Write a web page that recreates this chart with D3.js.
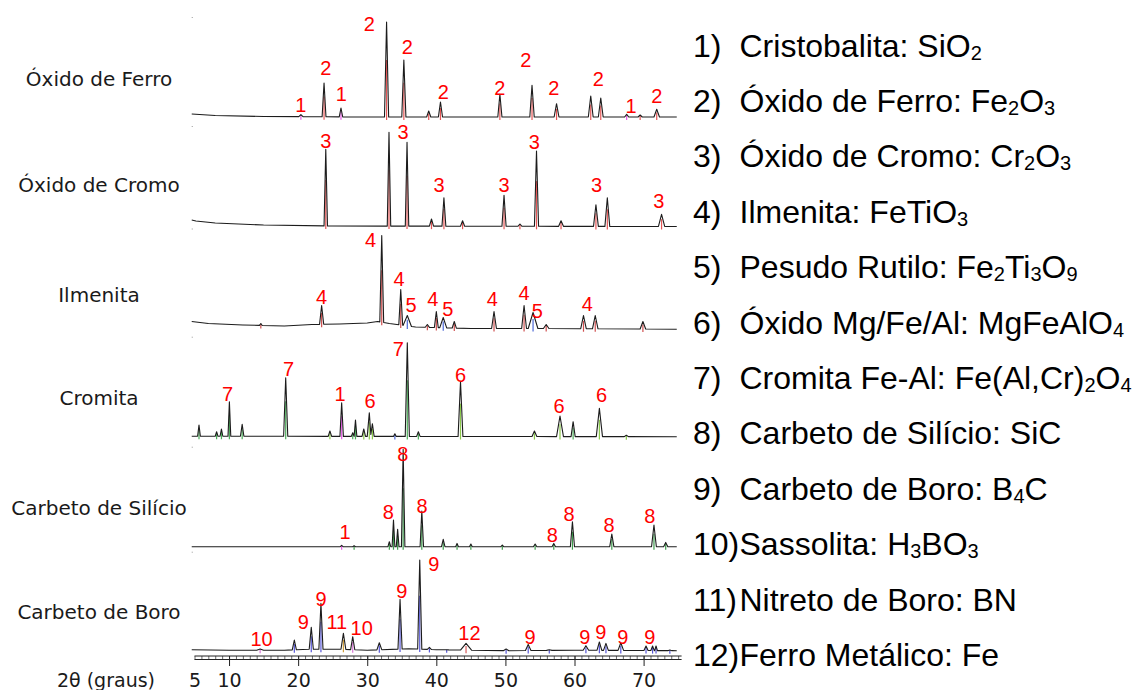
<!DOCTYPE html>
<html>
<head>
<meta charset="utf-8">
<script src="https://cdn.jsdelivr.net/npm/d3@7"></script>
<style>
  body { margin: 0; background: #fff; }
  svg { display: block; }
</style>
</head>
<body>
<svg id="chart" width="1136" height="690"></svg>
<script>
// ---- Samples (one diffractogram each, top to bottom) ----
const sampleNames = ["Óxido de Ferro", "Óxido de Cromo", "Ilmenita", "Cromita", "Carbeto de Silício", "Carbeto de Boro"];

// Peaks: [2θ (deg), relative intensity at apex, half base width (deg), phase id]
const peaksFerro = [
  [20.4, 2.3, 0.3, 1], [23.75, 34, 0.28, 2], [26.2, 9, 0.25, 1], [32.8, 95, 0.3, 2],
  [35.3, 57, 0.3, 2], [38.9, 6, 0.3, 2], [40.6, 15, 0.3, 2], [49.2, 22.7, 0.3, 2],
  [53.85, 31.7, 0.32, 2], [57.4, 13.3, 0.35, 2], [62.35, 21, 0.35, 2], [63.8, 19, 0.35, 2],
  [67.55, 2.7, 0.3, 1], [69.5, 2, 0.3, 2], [71.9, 7.7, 0.4, 2]
];
const peaksCromo = [
  [24.0, 76.7, 0.25, 3], [33.15, 93.7, 0.25, 3], [35.76, 83.7, 0.25, 3], [39.3, 7, 0.3, 3],
  [41.1, 28.3, 0.28, 3], [43.8, 5.3, 0.3, 3], [49.8, 30.7, 0.3, 3], [52.1, 2, 0.3, 3],
  [54.5, 75, 0.3, 3], [58.05, 5.3, 0.35, 3], [63.1, 21.3, 0.35, 3], [64.75, 28.3, 0.35, 3],
  [72.6, 11.7, 0.45, 3]
];
const peaksIlmenita = [
  [14.6, 5, 0.2, 4], [23.4, 23, 0.3, 4], [32.1, 93, 0.28, 4], [34.85, 39, 0.28, 4],
  [35.8, 13, 0.6, 5], [38.7, 4, 0.3, 4], [40.0, 17, 0.28, 4], [41.0, 11, 0.5, 5],
  [42.6, 7, 0.3, 4], [48.35, 17, 0.35, 4], [52.7, 23, 0.35, 4], [54.0, 16, 0.7, 5],
  [55.9, 4, 0.4, 4], [61.3, 13, 0.4, 4], [63.0, 13, 0.4, 4], [69.9, 7, 0.4, 4]
];
const peaksCromita = [
  [5.65, 11.7, 0.2, 7], [8.2, 5, 0.2, 7], [8.9, 7.7, 0.2, 7], [10.05, 35, 0.2, 7],
  [11.9, 12.3, 0.25, 7], [18.2, 59, 0.3, 7], [24.6, 5.7, 0.25, 6], [26.3, 34, 0.25, 1],
  [27.9, 4, 0.2, 7], [28.3, 16.7, 0.2, 7], [29.5, 7.7, 0.25, 6], [30.3, 24, 0.3, 6],
  [30.75, 13, 0.25, 6], [34.0, 3, 0.2, 5], [35.8, 94, 0.3, 7], [37.4, 5, 0.25, 7],
  [43.5, 55, 0.35, 6], [54.2, 5.7, 0.35, 6], [57.9, 20.7, 0.5, 6], [59.8, 15, 0.3, 7],
  [63.6, 28.3, 0.45, 6], [67.5, 1.5, 0.3, 6]
];
const peaksSilicio = [
  [26.3, 1.3, 0.2, 1], [28.1, 1, 0.2, 8], [33.2, 5, 0.2, 8], [33.8, 26.7, 0.2, 8],
  [34.4, 17.3, 0.2, 8], [35.2, 97.3, 0.25, 8], [37.9, 35.7, 0.25, 8], [41.0, 7.3, 0.25, 8],
  [43.0, 3.3, 0.2, 8], [45.0, 2.7, 0.2, 8], [49.55, 1.7, 0.2, 8], [54.3, 2.7, 0.25, 8],
  [57.0, 3.3, 0.25, 8], [59.7, 25, 0.3, 8], [65.4, 12.7, 0.3, 8], [71.5, 21.7, 0.35, 8],
  [73.2, 4.3, 0.3, 8]
];
const peaksBoro = [
  [14.5, 2.7, 0.5, 10], [19.45, 11.7, 0.3, 9], [21.9, 24.3, 0.3, 9], [23.3, 48.3, 0.3, 9],
  [26.55, 18.3, 0.35, 11], [27.9, 15, 0.3, 10], [31.75, 9, 0.35, 9], [34.75, 52.3, 0.3, 9],
  [37.6, 91.7, 0.3, 9], [39.0, 4.3, 0.3, 9], [41.5, 2, 0.3, 9], [44.3, 8.3, 0.8, 12],
  [50.1, 2.7, 0.4, 9], [53.3, 7.3, 0.4, 9], [56.35, 2, 0.4, 9], [61.65, 6, 0.4, 9],
  [63.6, 9.7, 0.35, 9], [64.55, 8.3, 0.35, 9], [66.7, 9, 0.4, 9], [70.35, 5.7, 0.3, 9],
  [71.3, 5.7, 0.25, 9], [71.8, 5.7, 0.2, 9], [73.8, 1.7, 0.3, 9]
];

// Background level: [2θ, relative intensity]
const bgFerro = [[4.6, 3], [8, 1.5], [15, 0.5], [30, 0], [75, 0]];
const bgCromo = [[4.6, 6], [5.2, 5], [8, 3], [15, 1], [25, 0], [75, -0.5]];
const bgIlmenita = [[4.6, 7], [7, 5], [12, 3.5], [18, 2.5], [22, 4], [26, 4.5], [30, 5.5],
  [31.5, 7], [33.2, 5], [37, 1.5], [45, 0], [55, 0], [75, -0.7]];
const bgCromita = [[4.6, 0.5], [75, 0]];
const bgSilicio = [[4.6, 0], [75, 0]];
const bgBoro = [[4.6, 2], [10, 1.5], [18, 1.5], [22, 2.5], [26, 2.5], [30, 1.5], [36, 3],
  [40, 2], [50, 1], [60, 1.5], [75, 1]];

// Phase annotations: [label, 2θ, intensity level of label centre]
const labelsFerro = [["1", 20.38, 12], ["2", 24.0, 49], ["1", 26.25, 23.3], ["2", 30.3, 93.7],
  ["2", 35.8, 70.3], ["2", 41.0, 25], ["2", 49.2, 29.5], ["2", 52.95, 57.3], ["2", 57.0, 29.5],
  ["2", 63.45, 38], ["1", 68.2, 11.2], ["2", 71.9, 21.2]];
const labelsCromo = [["3", 24.0, 85.3], ["3", 35.2, 94], ["3", 40.4, 41.5], ["3", 49.8, 41.5],
  ["3", 54.2, 84.3], ["3", 63.2, 41.5], ["3", 72.2, 25.3]];
const labelsIlmenita = [["4", 23.4, 31.8], ["4", 30.5, 88.5], ["4", 34.6, 50.2], ["5", 36.35, 24.2],
  ["4", 39.5, 29.5], ["5", 41.65, 20.2], ["4", 48.1, 29.5], ["4", 52.7, 36], ["5", 54.6, 17.5],
  ["4", 61.85, 24.5]];
const labelsCromita = [["7", 9.8, 43.4], ["7", 18.6, 67.5], ["1", 26.05, 42.7], ["6", 30.4, 35.5],
  ["7", 34.5, 87.5], ["6", 43.5, 61.7], ["6", 57.75, 30.9], ["6", 63.9, 41.7]];
const labelsSilicio = [["1", 26.8, 14.5], ["8", 33.05, 34.5], ["8", 35.15, 92.7], ["8", 37.95, 41.2],
  ["8", 56.8, 11.7], ["8", 59.2, 32.5], ["8", 65.0, 22.2], ["8", 70.9, 31.2]];
const labelsBoro = [["10", 14.7, 12.5], ["9", 20.75, 29.5], ["9", 23.3, 52.9], ["11", 25.6, 29.5],
  ["10", 29.2, 24.2], ["9", 35.0, 60.9], ["9", 39.65, 87.7], ["12", 44.8, 19.2], ["9", 53.55, 14.7],
  ["9", 61.5, 14.7], ["9", 63.8, 19.5], ["9", 67.0, 14.7], ["9", 70.9, 14.7]];

// Legend of identified phases
const phaseIds = ["1)", "2)", "3)", "4)", "5)", "6)", "7)", "8)", "9)", "10)", "11)", "12)"];
const phaseNames = ["Cristobalita: ", "Óxido de Ferro: ", "Óxido de Cromo: ", "Ilmenita: ",
  "Pesudo Rutilo: ", "Óxido Mg/Fe/Al: ", "Cromita Fe-Al: ", "Carbeto de Silício: ",
  "Carbeto de Boro: ", "Sassolita: ", "Nitreto de Boro: ", "Ferro Metálico: "];
const phaseFormulas = ["SiO_2", "Fe_2O_3", "Cr_2O_3", "FeTiO_3", "Fe_2Ti_3O_9", "MgFeAlO_4",
  "Fe(Al,Cr)_2O_4", "SiC", "B_4C", "H_3BO_3", "BN", "Fe"];

// Axis
const axisTicks = [5, 10, 20, 30, 40, 50, 60, 70];
const axisTitle = "2θ (graus)";

// ---- Drawing ----
const svg = d3.select("#chart");
svg.append("rect").attr("width", 1136).attr("height", 690).attr("fill", "#fff");

const x = d3.scaleLinear().domain([5, 75.5]).range([194.5, 681.6]);
const traceStart = 4.6, traceEnd = 74.8;

const panels = [
  { peaks: peaksFerro, bg: bgFerro, labels: labelsFerro },
  { peaks: peaksCromo, bg: bgCromo, labels: labelsCromo },
  { peaks: peaksIlmenita, bg: bgIlmenita, labels: labelsIlmenita },
  { peaks: peaksCromita, bg: bgCromita, labels: labelsCromita },
  { peaks: peaksSilicio, bg: bgSilicio, labels: labelsSilicio },
  { peaks: peaksBoro, bg: bgBoro, labels: labelsBoro }
];
const panelBase = [117, 226, 328.5, 436.7, 546.7, 651.7];
const sampleLabelY = [86, 192, 302, 405, 515, 619];

const phaseColor = {
  1: "#e040e0", 2: "#e03a3a", 3: "#e03a3a", 4: "#c83232", 5: "#3050d0", 6: "#78c030",
  7: "#30a040", 8: "#1f8a30", 9: "#3a3ad0", 10: "#d060d0", 11: "#c89020", 12: "#d04040"
};

function makeBgAt(bg) {
  const bx = bg.map(d => d[0]), by = bg.map(d => d[1]);
  return d3.scaleLinear().domain(bx).range(by).clamp(true);
}

// Polyline through background vertices and each peak's foot/apex points
function traceVertices(peaks, bg) {
  const bgAt = makeBgAt(bg);
  const sorted = peaks.slice().sort((a, b) => a[0] - b[0]);
  const pts = [];
  sorted.forEach((p, i) => {
    const [t, h, w] = p;
    const prev = sorted[i - 1], next = sorted[i + 1];
    if (!prev || prev[0] + prev[2] <= t - w) pts.push([t - w, bgAt(t - w)]);
    else { const m = (prev[0] + t) / 2; pts.push([m, bgAt(m) + Math.min(prev[1], h) * 0.15]); }
    pts.push([t, h]);
    if (!next || t + w <= next[0] - next[2]) pts.push([t + w, bgAt(t + w)]);
  });
  bg.forEach(([t, v]) => {
    const inside = sorted.some(p => t >= p[0] - p[2] && t <= p[0] + p[2]);
    if (!inside && t >= traceStart && t <= traceEnd) pts.push([t, v]);
  });
  pts.push([traceStart, bgAt(traceStart)], [traceEnd, bgAt(traceEnd)]);
  return { pts: pts.sort((a, b) => a[0] - b[0]), bgAt };
}

panels.forEach((panel, i) => {
  const base = panelBase[i];
  const y = d3.scaleLinear().domain([0, 100]).range([base, base - 100]);
  const g = svg.append("g").attr("class", "panel");
  const { pts, bgAt } = traceVertices(panel.peaks, panel.bg);

  // small mark at the top-left corner of the frame
  g.append("rect").attr("x", x(traceStart)).attr("y", y(100)).attr("width", 1).attr("height", 1)
    .attr("fill", "#999");

  // reference sticks of the identified phases
  g.selectAll("line.stick").data(panel.peaks).join("line").attr("class", "stick")
    .attr("x1", d => x(d[0])).attr("x2", d => x(d[0]))
    .attr("y1", d => y(bgAt(d[0])) + 3)
    .attr("y2", d => y(bgAt(d[0]) + (d[1] - bgAt(d[0])) * 0.6))
    .attr("stroke", d => phaseColor[d[3]]).attr("stroke-width", 1.2).attr("opacity", 0.85);

  // measured pattern
  const line = d3.line().x(d => x(d[0])).y(d => y(d[1]));
  g.append("path").datum(pts).attr("d", line)
    .attr("fill", "none").attr("stroke", "#1c1c1c").attr("stroke-width", 1.1)
    .attr("stroke-linejoin", "round");

  // phase numbers
  g.selectAll("text.lbl").data(panel.labels).join("text").attr("class", "lbl")
    .attr("x", d => x(d[1])).attr("y", d => y(d[2])).attr("dy", "0.36em")
    .attr("text-anchor", "middle")
    .attr("font-family", "'Liberation Sans', Arial, sans-serif").attr("font-size", 20)
    .attr("fill", "#ff0000").text(d => d[0]);

  // sample name
  svg.append("text").attr("x", 99).attr("y", sampleLabelY[i]).attr("text-anchor", "middle")
    .attr("font-family", "'DejaVu Sans', Verdana, sans-serif").attr("font-size", 20)
    .attr("fill", "#1a1a1a").text(sampleNames[i]);
});

// ---- 2θ axis ----
const axisY = 656;
const axisG = svg.append("g").attr("transform", `translate(0,${axisY})`);
const minor = d3.range(5, 76, 1);
axisG.append("g")
  .call(d3.axisBottom(x).tickValues(minor).tickSize(3.5).tickFormat(""))
  .call(a => a.select(".domain").remove())
  .call(a => a.selectAll("line").attr("stroke", "#444").attr("stroke-width", 0.8));
axisG.append("g")
  .call(d3.axisBottom(x).tickValues(axisTicks.filter(t => t !== 5)).tickSize(10).tickPadding(8).tickFormat(d3.format("d")))
  .call(a => a.select(".domain").remove())
  .call(a => a.selectAll("line").attr("stroke", "#222").attr("stroke-width", 1))
  .call(a => a.selectAll("text").attr("font-family", "'DejaVu Sans', Verdana, sans-serif")
    .attr("font-size", 19).attr("fill", "#1a1a1a"));
axisG.append("g")
  .call(d3.axisBottom(x).tickValues([5]).tickSize(0).tickPadding(18).tickFormat(d3.format("d")))
  .call(a => a.select(".domain").remove())
  .call(a => a.selectAll("text").attr("font-family", "'DejaVu Sans', Verdana, sans-serif")
    .attr("font-size", 19).attr("fill", "#1a1a1a"));
[0, 3.5].forEach(off => {
  axisG.append("line").attr("x1", x(5)).attr("x2", x(75.5)).attr("y1", off).attr("y2", off)
    .attr("stroke", "#222").attr("stroke-width", 1);
});
svg.append("text").attr("x", 155).attr("y", 687).attr("text-anchor", "end")
  .attr("font-family", "'DejaVu Sans', Verdana, sans-serif").attr("font-size", 19)
  .attr("fill", "#1a1a1a").text(axisTitle);

// ---- Phase legend ----
const legend = svg.append("g").attr("font-family", "'Liberation Sans', Arial, sans-serif")
  .attr("font-size", 32).attr("fill", "#000");
phaseIds.forEach((id, i) => {
  const yb = 56.5 + i * 55.4;
  legend.append("text").attr("x", 693).attr("y", yb).text(id);
  const t = legend.append("text").attr("x", 739.5).attr("y", yb);
  t.append("tspan").text(phaseNames[i]);
  const parts = phaseFormulas[i].split(/(_\d)/).filter(s => s.length);
  let shifted = false;
  parts.forEach(p => {
    if (p.startsWith("_")) {
      t.append("tspan").attr("font-size", 20).attr("dy", shifted ? 0 : 3).text(p.slice(1));
      shifted = true;
    } else {
      t.append("tspan").attr("dy", shifted ? -3 : 0).text(p);
      shifted = false;
    }
  });
});
</script>
</body>
</html>
